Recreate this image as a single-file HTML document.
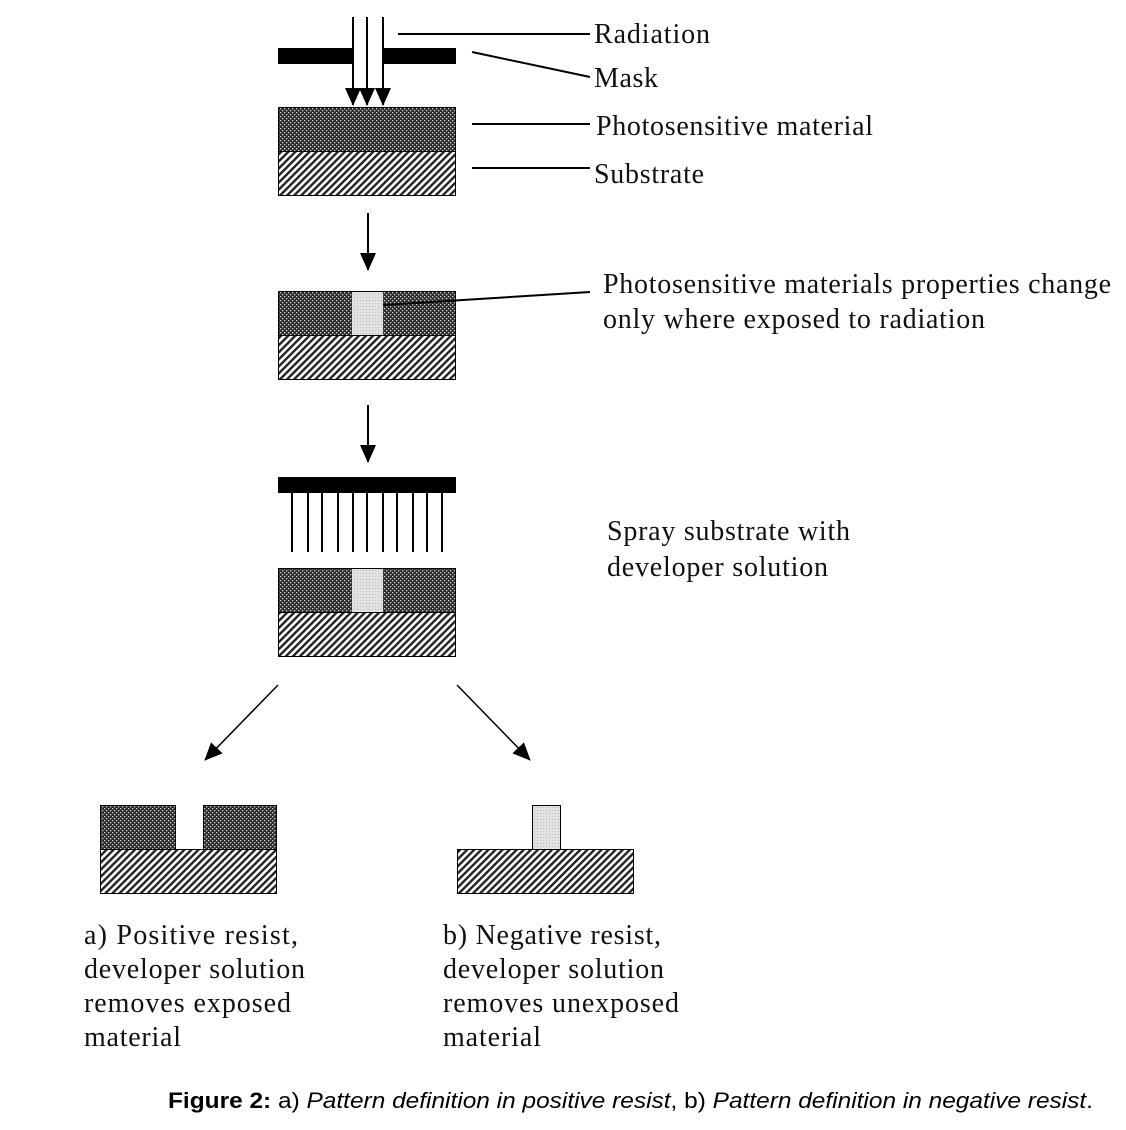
<!DOCTYPE html>
<html><head><style>
html,body{margin:0;padding:0;background:#fff;}
svg{display:block;}
.t{font-family:"Liberation Serif",serif;font-size:28px;fill:#111;}
.c{font-family:"Liberation Sans",sans-serif;font-size:22px;fill:#000;}
</style></head><body>
<svg width="1126" height="1130" viewBox="0 0 1126 1130" xmlns="http://www.w3.org/2000/svg">
<defs>
<pattern id="dots" width="4" height="4" patternUnits="userSpaceOnUse">
<rect width="4" height="4" fill="#2e2e2e"/>
<rect x="0" y="0" width="1.3" height="1.3" fill="#ccc"/>
<rect x="2" y="2" width="1.3" height="1.3" fill="#ccc"/>
</pattern>
<pattern id="hatch" width="5" height="5" patternUnits="userSpaceOnUse" patternTransform="rotate(45)">
<rect width="5" height="5" fill="#fff"/>
<rect x="0" y="0" width="2.4" height="5" fill="#222"/>
</pattern>
<pattern id="light" width="3" height="3" patternUnits="userSpaceOnUse">
<rect width="3" height="3" fill="#e2e2e2"/>
<rect width="1" height="1" fill="#bbb"/>
</pattern>
<marker id="ah2" markerWidth="18" markerHeight="16" refX="17" refY="8" orient="auto" markerUnits="userSpaceOnUse">
<path d="M0,0 L18,8 L0,16 z" fill="#000"/>
</marker>
</defs>

<rect x="278" y="48" width="75" height="16" fill="#000"/>
<rect x="383" y="48" width="73" height="16" fill="#000"/>
<g stroke="#000" stroke-width="2">
<line x1="353" y1="17" x2="353" y2="105" marker-end="url(#ah2)"/>
<line x1="367" y1="17" x2="367" y2="105" marker-end="url(#ah2)"/>
<line x1="383" y1="17" x2="383" y2="105" marker-end="url(#ah2)"/>
</g>
<rect x="278.5" y="107.5" width="177" height="44" fill="url(#dots)" stroke="#000"/>
<rect x="278.5" y="151.5" width="177" height="44" fill="url(#hatch)" stroke="#000"/>
<g stroke="#000" stroke-width="2">
<line x1="398" y1="34" x2="590" y2="34"/>
<line x1="472" y1="52" x2="590" y2="77"/>
<line x1="472" y1="124" x2="590" y2="124"/>
<line x1="472" y1="168" x2="590" y2="168"/>
</g>
<text class="t" x="594" y="43" textLength="116">Radiation</text>
<text class="t" x="594" y="87" textLength="64">Mask</text>
<text class="t" x="596" y="135" textLength="277">Photosensitive material</text>
<text class="t" x="594" y="183" textLength="110">Substrate</text>

<line x1="368" y1="213" x2="368" y2="270" stroke="#000" stroke-width="2" marker-end="url(#ah2)"/>

<rect x="278.5" y="291.5" width="177" height="44" fill="url(#dots)" stroke="#000"/>
<rect x="352" y="292" width="31" height="43" fill="url(#light)"/>
<rect x="278.5" y="335.5" width="177" height="44" fill="url(#hatch)" stroke="#000"/>
<line x1="383" y1="305" x2="590" y2="292" stroke="#000" stroke-width="2"/>
<text class="t" x="603" y="293" textLength="508">Photosensitive materials properties change</text>
<text class="t" x="603" y="328" textLength="382">only where exposed to radiation</text>

<line x1="368" y1="405" x2="368" y2="462" stroke="#000" stroke-width="2" marker-end="url(#ah2)"/>

<rect x="278" y="477" width="178" height="16" fill="#000"/>
<g stroke="#000" stroke-width="2">
<line x1="292" y1="493" x2="292" y2="552"/>
<line x1="308" y1="493" x2="308" y2="552"/>
<line x1="322" y1="493" x2="322" y2="552"/>
<line x1="338" y1="493" x2="338" y2="552"/>
<line x1="353" y1="493" x2="353" y2="552"/>
<line x1="367" y1="493" x2="367" y2="552"/>
<line x1="383" y1="493" x2="383" y2="552"/>
<line x1="397" y1="493" x2="397" y2="552"/>
<line x1="413" y1="493" x2="413" y2="552"/>
<line x1="427" y1="493" x2="427" y2="552"/>
<line x1="442" y1="493" x2="442" y2="552"/>
</g>
<rect x="278.5" y="568.5" width="177" height="44" fill="url(#dots)" stroke="#000"/>
<rect x="352" y="569" width="31" height="43" fill="url(#light)"/>
<rect x="278.5" y="612.5" width="177" height="44" fill="url(#hatch)" stroke="#000"/>
<text class="t" x="607" y="540" textLength="243">Spray substrate with</text>
<text class="t" x="607" y="576" textLength="221">developer solution</text>

<line x1="278" y1="685" x2="205" y2="760" stroke="#000" stroke-width="1.5" marker-end="url(#ah2)"/>
<line x1="457" y1="685" x2="530" y2="760" stroke="#000" stroke-width="1.5" marker-end="url(#ah2)"/>

<rect x="100.5" y="805.5" width="75" height="44" fill="url(#dots)" stroke="#000"/>
<rect x="203.5" y="805.5" width="73" height="44" fill="url(#dots)" stroke="#000"/>
<rect x="100.5" y="849.5" width="176" height="44" fill="url(#hatch)" stroke="#000"/>
<rect x="532.5" y="805.5" width="28" height="44" fill="url(#light)" stroke="#000"/>
<rect x="457.5" y="849.5" width="176" height="44" fill="url(#hatch)" stroke="#000"/>

<text class="t" x="84" y="944" textLength="214">a) Positive resist,</text>
<text class="t" x="84" y="978" textLength="221">developer solution</text>
<text class="t" x="84" y="1012" textLength="207">removes exposed</text>
<text class="t" x="84" y="1046" textLength="97">material</text>
<text class="t" x="443" y="944" textLength="218">b) Negative resist,</text>
<text class="t" x="443" y="978" textLength="221">developer solution</text>
<text class="t" x="443" y="1012" textLength="236">removes unexposed</text>
<text class="t" x="443" y="1046" textLength="98">material</text>

<text class="c" x="168" y="1108" textLength="925" lengthAdjust="spacingAndGlyphs"><tspan font-weight="bold">Figure 2:</tspan> a) <tspan font-style="italic">Pattern definition in positive resist</tspan>, b) <tspan font-style="italic">Pattern definition in negative resist</tspan>.</text>
</svg>
</body></html>
